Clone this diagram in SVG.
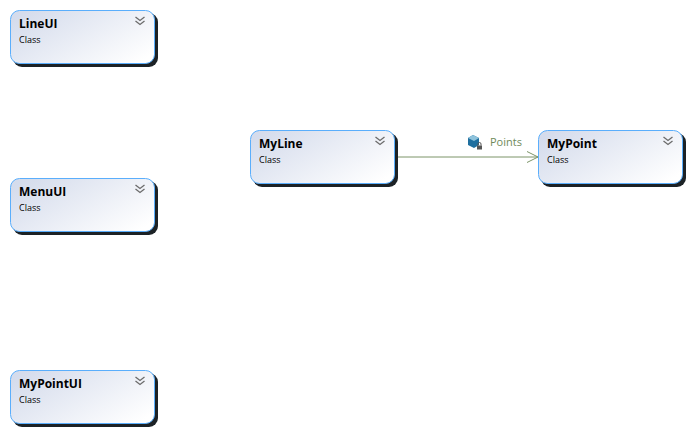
<svg xmlns="http://www.w3.org/2000/svg" width="691" height="433" viewBox="0 0 691 433">
<style>
.box{fill:url(#g);stroke:#5aaefc;stroke-width:1}
.shadow{fill:#1c2226}
.t{font-family:"Open Sans","Noto Sans",sans-serif;font-size:12px;font-weight:700;fill:#000}
.s{font-family:"Open Sans","Noto Sans",sans-serif;font-size:9px;fill:#000}
.c{fill:none;stroke:#6b6b6b;stroke-width:1.3}
.l{font-family:"Open Sans","Noto Sans",sans-serif;font-size:11px;fill:#6f8a5a}
</style>
<defs>
<linearGradient id="g" x1="0" y1="0.2" x2="1" y2="0.8"><stop offset="0" stop-color="#d5dcec"/><stop offset="1" stop-color="#fff"/></linearGradient>
<g id="chev"><path class="c" d="M-4.500 -4L0 -0.500L4.500 -4M-4.500 0L0 3.500L4.500 0"/></g>
<marker id="a" markerUnits="userSpaceOnUse" markerWidth="12" markerHeight="12" refX="11" refY="6" orient="auto"><path d="M0 0.500L11 6L0 11.500" fill="none" stroke="#7c9468" stroke-width="1"/></marker>
</defs>
<g id="connectors">
<path d="M396 157H538" fill="none" stroke="#7c9468" stroke-width="1" marker-end="url(#a)"/>
</g>
<g id="LineUI"><rect class="shadow" x="13" y="13" width="145" height="54" rx="9"/><rect class="box" x="10.500" y="10.500" width="144" height="53" rx="9"/><use href="#chev" x="140" y="21"/><text class="t" x="19" y="28">LineUI</text><text class="s" x="19" y="43">Class</text></g>
<g id="MenuUI"><rect class="shadow" x="13" y="181" width="145" height="54" rx="9"/><rect class="box" x="10.500" y="178.500" width="144" height="53" rx="9"/><use href="#chev" x="140" y="189"/><text class="t" x="19" y="196">MenuUI</text><text class="s" x="19" y="211">Class</text></g>
<g id="MyPointUI"><rect class="shadow" x="13" y="373" width="145" height="54" rx="9"/><rect class="box" x="10.500" y="370.500" width="144" height="53" rx="9"/><use href="#chev" x="140" y="381"/><text class="t" x="19" y="388">MyPointUI</text><text class="s" x="19" y="403">Class</text></g>
<g id="MyLine"><rect class="shadow" x="253" y="133" width="145" height="54" rx="9"/><rect class="box" x="250.500" y="130.500" width="144" height="53" rx="9"/><use href="#chev" x="380" y="141"/><text class="t" x="259" y="148">MyLine</text><text class="s" x="259" y="163">Class</text></g>
<g id="MyPoint"><rect class="shadow" x="541" y="133" width="145" height="54" rx="9"/><rect class="box" x="538.500" y="130.500" width="144" height="53" rx="9"/><use href="#chev" x="668" y="141"/><text class="t" x="547" y="148">MyPoint</text><text class="s" x="547" y="163">Class</text></g>
<g id="PointsLabel">
<path d="M468 138L473 135L479 138V145L474 148L468 145Z" fill="#1f6f9f"/>
<path d="M468 138L473 135L479 138L474 141Z" fill="#8fc3dc"/>
<rect x="477" y="145.500" width="5" height="4" fill="#555"/><path d="M478 145.500V144a1.500 1.500 0 0 1 3 0V145.500" fill="none" stroke="#555"/>
<text class="l" x="490" y="146">Points</text>
</g>
</svg>
